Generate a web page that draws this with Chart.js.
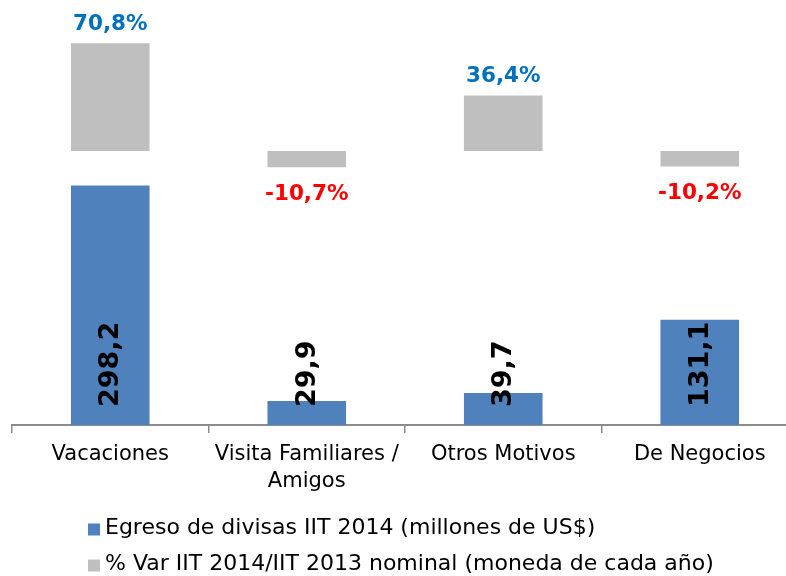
<!DOCTYPE html>
<html>
<head>
<meta charset="utf-8">
<script src="https://cdn.jsdelivr.net/npm/chart.js@4/dist/chart.umd.min.js"></script>
<style>
  html, body { margin: 0; padding: 0; background: #fff; overflow: hidden; width: 786px; height: 576px; }
  canvas { display: block; }
</style>
</head>
<body>
<canvas id="c" width="810" height="576"></canvas>
<script>
// ---- data ----
const categories = ['Vacaciones', ['Visita Familiares /', 'Amigos'], 'Otros Motivos', 'De Negocios'];
const egresoLabel = 'Egreso de divisas IIT 2014 (millones de US$)';
const egresoValues = [298.2, 29.9, 39.7, 131.1];
const varLabel = '% Var IIT 2014/IIT 2013 nominal (moneda de cada año)';
const varValues = [70.8, -10.7, 36.4, -10.2];

const FONT = "'DejaVu Sans', Verdana, sans-serif";
const fmt = v => v.toFixed(1).replace('.', ',');

const labelPlugin = {
  id: 'labelPlugin',
  afterDatasetsDraw(chart) {
    const ctx = chart.ctx;
    // percentage labels
    const m1 = chart.getDatasetMeta(1);
    ctx.save();
    ctx.font = 'bold 21.5px ' + FONT;
    ctx.textAlign = 'center';
    ctx.textBaseline = 'middle';
    m1.data.forEach((el, i) => {
      const v = varValues[i];
      ctx.fillStyle = v >= 0 ? '#0070C0' : '#FF0000';
      const y = v >= 0 ? el.y - 19 : el.y + 27;
      ctx.fillText(fmt(v) + '%', el.x, y);
    });
    ctx.restore();
    // values inside blue bars (rotated, inside base)
    const m0 = chart.getDatasetMeta(0);
    ctx.save();
    ctx.font = 'bold 27px ' + FONT;
    ctx.fillStyle = '#000';
    ctx.textAlign = 'left';
    ctx.textBaseline = 'middle';
    m0.data.forEach((el, i) => {
      ctx.save();
      ctx.translate(el.x + 1, el.base - 18);
      ctx.rotate(-Math.PI / 2);
      ctx.fillText(fmt(egresoValues[i]), 0, 0);
      ctx.restore();
    });
    ctx.restore();
  },
  afterDraw(chart) {
    const ctx = chart.ctx;
    ctx.save();
    ctx.font = '22px ' + FONT;
    ctx.textAlign = 'left';
    ctx.textBaseline = 'middle';
    const rows = [528.5, 564.5];
    chart.data.datasets.forEach((ds, i) => {
      const y = rows[i];
      ctx.fillStyle = ds.backgroundColor;
      ctx.fillRect(88, y - 5, 12, 12);
      ctx.fillStyle = '#000';
      ctx.fillText(ds.label, 105, y);
    });
    ctx.restore();
  }
};

new Chart(document.getElementById('c'), {
  type: 'bar',
  data: {
    labels: categories,
    datasets: [
      {
        label: egresoLabel,
        data: egresoValues,
        backgroundColor: '#4F81BD',
        yAxisID: 'y',
        grouped: false,
        barPercentage: 0.4,
        categoryPercentage: 1.0
      },
      {
        label: varLabel,
        data: varValues,
        backgroundColor: '#BFBFBF',
        yAxisID: 'y2',
        grouped: false,
        barPercentage: 0.4,
        categoryPercentage: 1.0
      }
    ]
  },
  options: {
    responsive: false,
    animation: false,
    layout: { padding: { left: 12, right: 12, top: 0, bottom: 0 } },
    plugins: { legend: { display: false }, tooltip: { enabled: false } },
    scales: {
      x: {
        type: 'category',
        grid: { offset: true, drawOnChartArea: false, drawTicks: true, tickLength: 8, color: '#8C8C8C', lineWidth: 1.5 },
        border: { display: true, color: '#8C8C8C', width: 2 },
        ticks: {
          font: { family: FONT, size: 21, lineHeight: 1.3 },
          color: '#000',
          padding: 8,
          maxRotation: 0,
          autoSkip: false
        },
        afterFit(s) { s.height = 151; }
      },
      y: { display: false, min: 0, max: 529 },
      y2: { display: false, min: -180.3, max: 99.3 }
    }
  },
  plugins: [labelPlugin]
});
</script>
</body>
</html>
